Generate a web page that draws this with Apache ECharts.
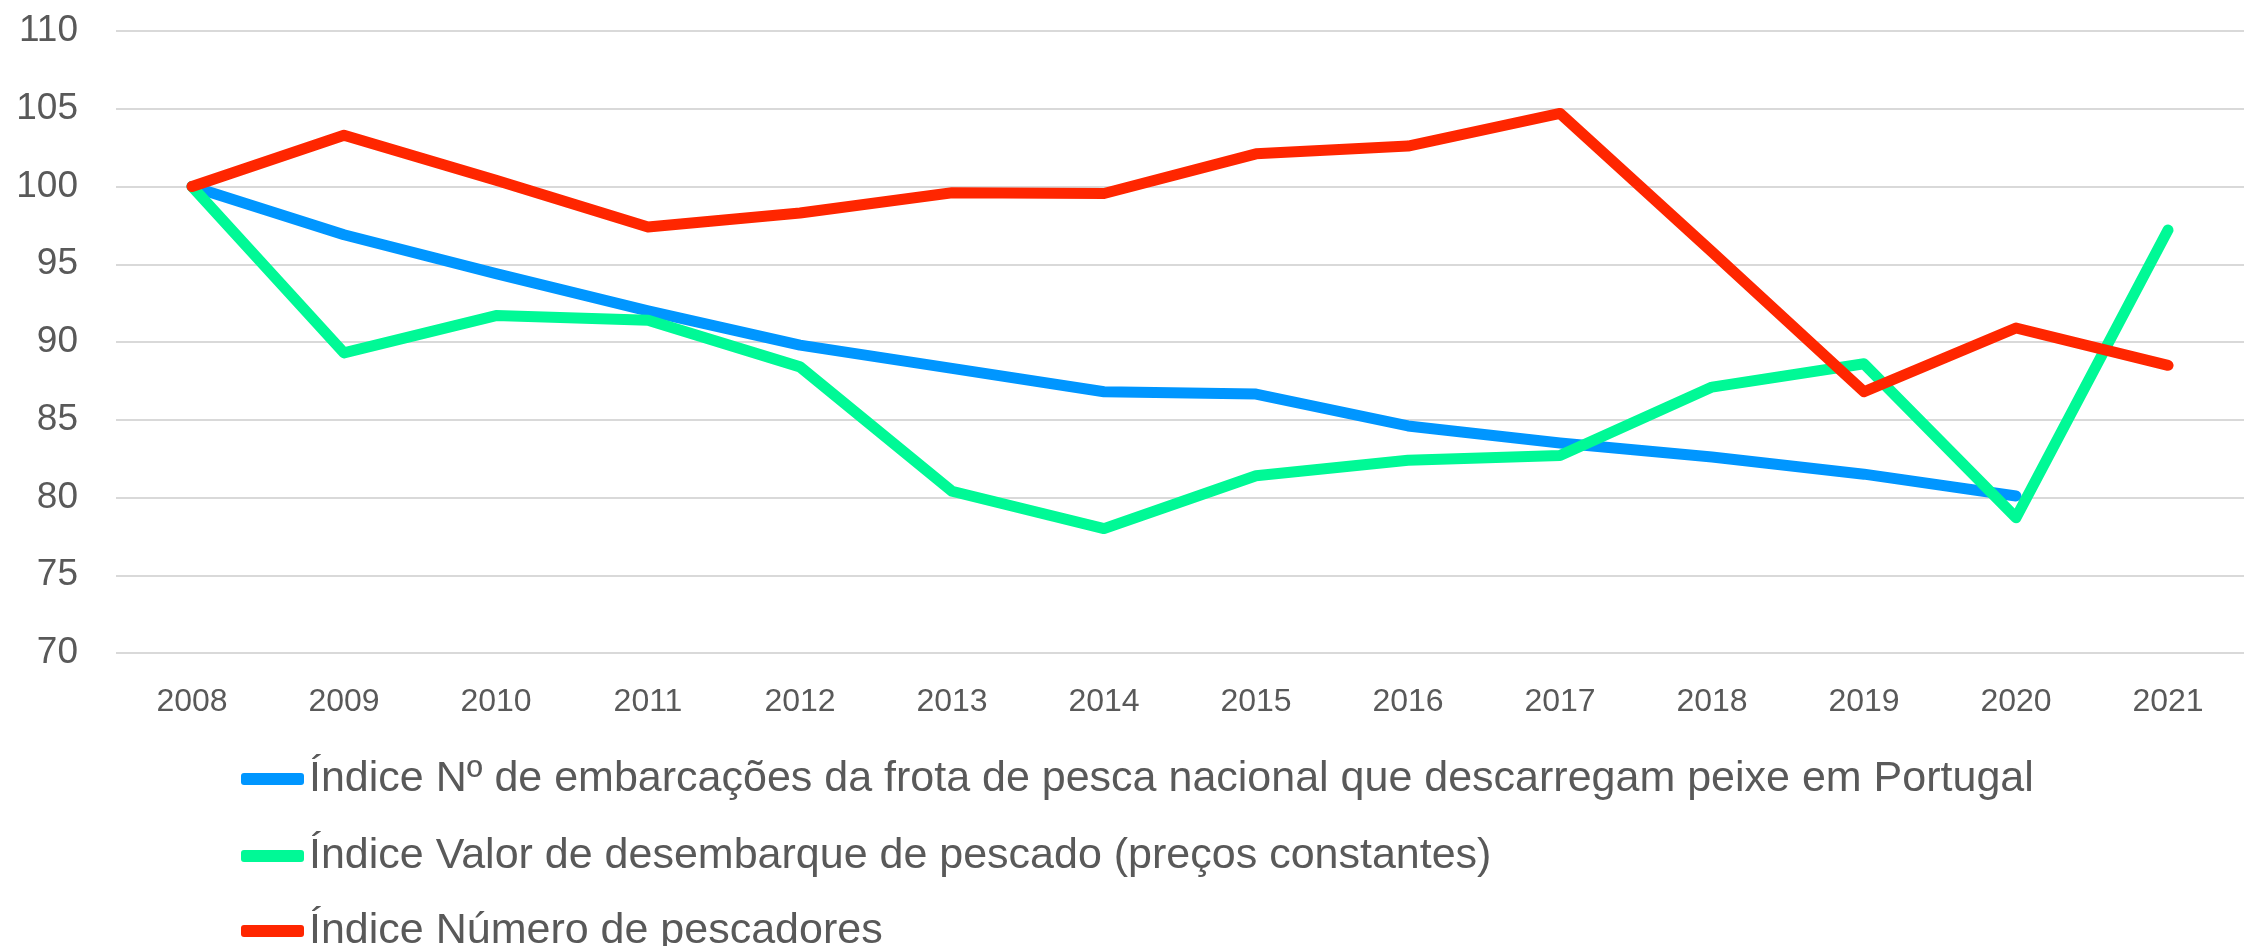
<!DOCTYPE html>
<html>
<head>
<meta charset="utf-8">
<script src="https://cdn.jsdelivr.net/npm/echarts@6/dist/echarts.min.js"></script>
<style>
  html, body { margin: 0; padding: 0; background: #fff; }
  #indices { width: 2244px; height: 946px; }
</style>
</head>
<body>
<div id="indices"></div>
<script>
  // anos
  var anos = ['2008', '2009', '2010', '2011', '2012', '2013', '2014', '2015', '2016', '2017', '2018', '2019', '2020', '2021'];

  // indices (2008 = 100)
  var embarcacoes = [100, 96.9, 94.4, 92.0, 89.8, 88.3, 86.8, 86.65, 84.6, 83.5, 82.6, 81.5, 80.1, null];
  var valorDesembarque = [100, 89.3, 91.7, 91.4, 88.4, 80.4, 78.0, 81.4, 82.4, 82.7, 87.1, 88.6, 78.7, 97.2];
  var pescadores = [100, 103.3, 100.4, 97.4, 98.3, 99.6, 99.55, 102.1, 102.6, 104.7, 95.8, 86.8, 90.9, 88.5];

  var nomes = [
    'Índice Nº de embarcações da frota de pesca nacional que descarregam peixe em Portugal',
    'Índice Valor de desembarque de pescado (preços constantes)',
    'Índice Número de pescadores'
  ];

  var myChart = echarts.init(document.getElementById('indices'));

  function serie(nome, dados, cor) {
    return {
      name: nome,
      type: 'line',
      data: dados,
      symbol: 'none',
      color: cor,
      lineStyle: { width: 11, color: cor, cap: 'round', join: 'round' }
    };
  }

  // uma legenda por linha, como no original
  function legenda(nome, topo) {
    return {
      left: 236,
      top: topo,
      itemWidth: 63,
      itemHeight: 12,
      icon: 'roundRect',
      data: [nome],
      textStyle: { fontSize: 43, lineHeight: 44, color: '#595959', fontFamily: 'Liberation Sans' }
    };
  }

  myChart.setOption({
    animation: false,
    textStyle: { fontFamily: 'Liberation Sans' },
    grid: { left: 116, top: 31, width: 2142, height: 622 },
    legend: [
      legenda(nomes[0], 752),
      legenda(nomes[1], 829),
      legenda(nomes[2], 904)
    ],
    xAxis: {
      type: 'category',
      data: anos,
      boundaryGap: true,
      axisLine: { show: false },
      axisTick: { show: false },
      axisLabel: { fontSize: 32, color: '#595959', margin: 33 }
    },
    yAxis: {
      type: 'value',
      min: 70,
      max: 110,
      interval: 5,
      axisLine: { show: false },
      axisTick: { show: false },
      axisLabel: { fontSize: 37, color: '#595959', margin: 38 },
      splitLine: { lineStyle: { color: '#d9d9d9', width: 2 } }
    },
    series: [
      serie(nomes[0], embarcacoes, '#0096FF'),
      serie(nomes[1], valorDesembarque, '#00F996'),
      serie(nomes[2], pescadores, '#FF2600')
    ]
  });
</script>
</body>
</html>
